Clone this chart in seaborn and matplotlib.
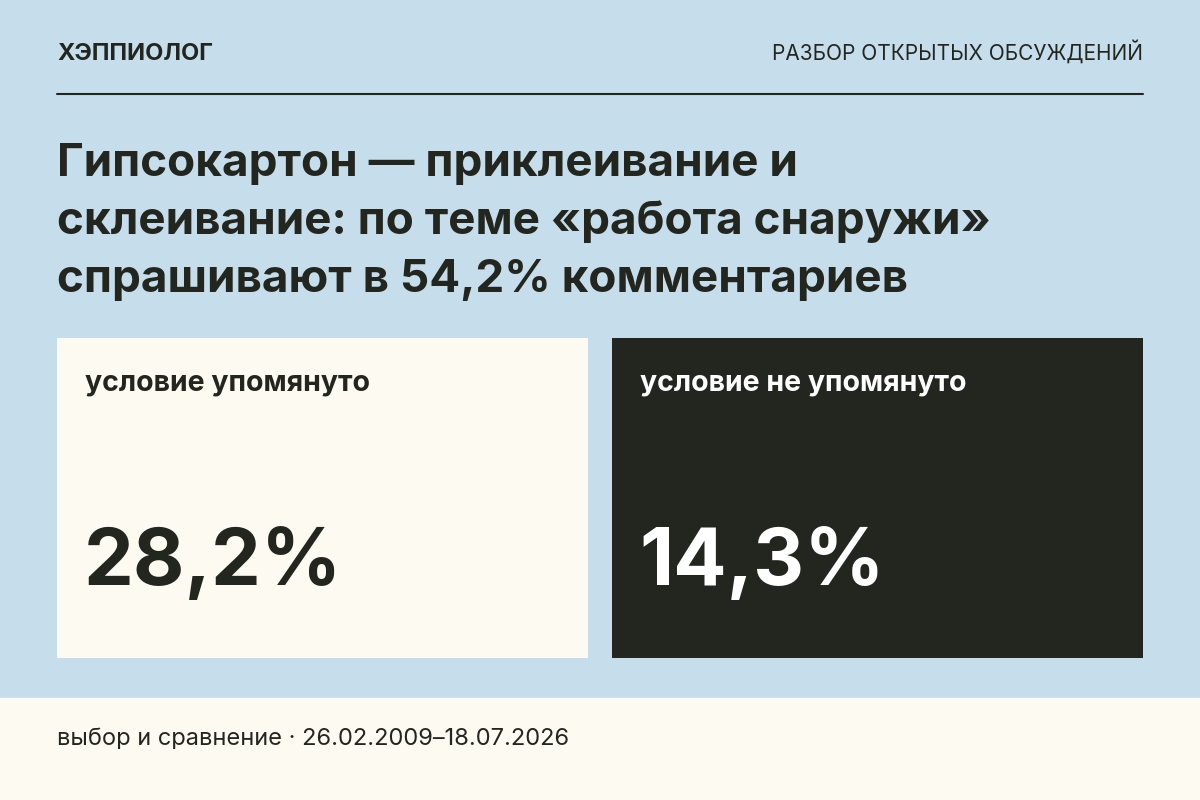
import matplotlib
matplotlib.use("Agg")
import matplotlib.pyplot as plt
import seaborn as sns
from matplotlib.patches import Rectangle
from matplotlib.lines import Line2D

# данные карточки
brand = "ХЭППИОЛОГ"
rubric = "РАЗБОР ОТКРЫТЫХ ОБСУЖДЕНИЙ"
title_lines = ["Гипсокартон — приклеивание и",
               "склеивание: по теме «работа снаружи»",
               "спрашивают в 54,2% комментариев"]
panel_labels = ["условие упомянуто", "условие не упомянуто"]
panel_values = [28.2, 14.3]
footer = "выбор и сравнение · 26.02.2009–18.07.2026"

sns.set_theme(style="white")
plt.rcParams['font.family'] = ['Inter', 'DejaVu Sans']

W, H = 1200, 800
fig = plt.figure(figsize=(12, 8), dpi=100)
fig.patch.set_facecolor("#c6deec")

def fx(x): return x / W
def fy(y): return 1 - y / H

# нижняя полоса
fig.patches.append(Rectangle((0, 0), 1, 1 - 698 / H, transform=fig.transFigure,
                             color="#fdfaf2", zorder=0))
fig.text(fx(57), fy(60), brand, fontsize=17, fontweight="bold", color="#23261f")
fig.text(fx(1143), fy(60), rubric, fontsize=15, color="#23261f", ha="right")
fig.lines.append(Line2D([fx(57), fx(1143)], [fy(94), fy(94)], transform=fig.transFigure,
                        color="#23261f", lw=1.5))

for i, line in enumerate(title_lines):
    fig.text(fx(57), fy(176 + i * 58), line, fontsize=33, fontweight="bold", color="#23261f")

# панели
colors = [("#fdfaf2", "#23261f"), ("#23261f", "#ffffff")]
lefts = [57, 612]
for left, lab, val, (bg, fg) in zip(lefts, panel_labels, panel_values, colors):
    ax = fig.add_axes([fx(left), fy(658), 531 / W, 320 / H])
    ax.set_facecolor(bg)
    ax.set_xticks([]); ax.set_yticks([])
    for s in ax.spines.values():
        s.set_visible(False)
    ax.set_xlim(0, 531); ax.set_ylim(320, 0)
    ax.text(28, 53, lab, fontsize=20.5, fontweight="bold", color=fg)
    ax.text(27, 247, f"{val:.1f}%".replace(".", ","), fontsize=57,
            fontweight="bold", color=fg)

fig.text(fx(57), fy(745), footer, fontsize=17, color="#23261f")

fig.savefig("out.png", dpi=100, facecolor=fig.get_facecolor())
